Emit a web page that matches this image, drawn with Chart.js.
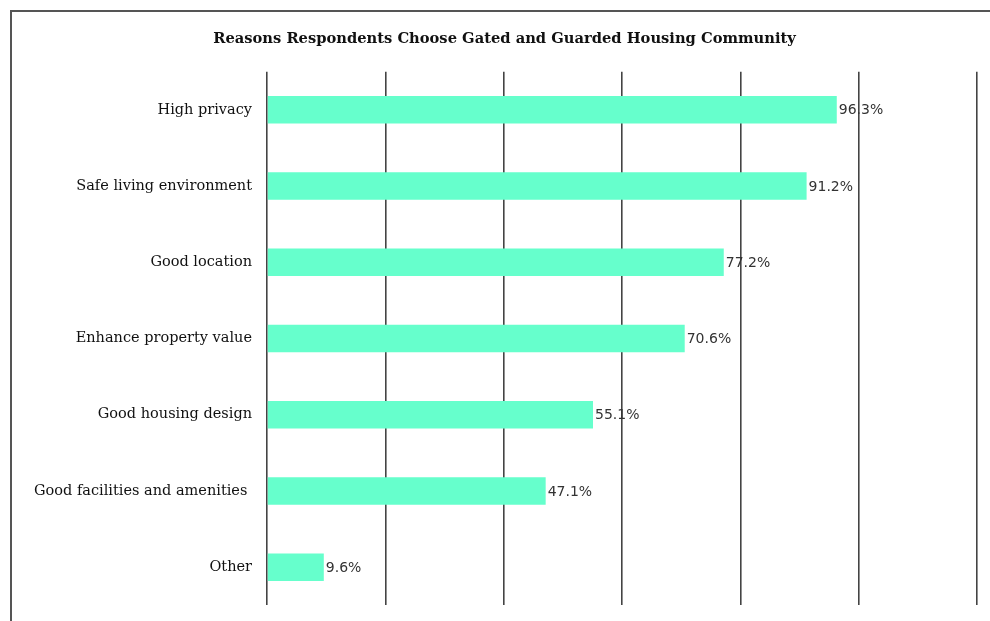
<!DOCTYPE html>
<html lang="en">
<head>
    <meta charset="UTF-8">
    <script src="https://cdn.jsdelivr.net/npm/chart.js"></script>
    <title>Reasons Respondents Choose Gated and Guarded Housing Community</title>
    <style>
        body { margin: 0; background: #fff; }
        #wrap { position: relative; width: 990px; height: 621px; }
        #frame { position: absolute; left: 10px; top: 10px; right: 0; bottom: 0;
                 border-left: 2px solid #555; border-top: 2px solid #555; }
        canvas { position: absolute; left: 0; top: 0; }
    </style>
</head>
<body>
<div id="wrap">
    <div id="frame"></div>
    <canvas id="reasons" width="990" height="621"></canvas>
</div>
<script>
    // chart data
    var reasons = ['High privacy', 'Safe living environment', 'Good location', 'Enhance property value',
        'Good housing design', 'Good facilities and amenities ', 'Other'];
    var percents = [96.3, 91.2, 77.2, 70.6, 55.1, 47.1, 9.6];
    var axisTicks = [0, 20, 40, 60, 80, 100, 120];

    // write the value after each bar
    var valueLabels = {
        id: 'valueLabels',
        afterDatasetsDraw: function (chart) {
            var ctx = chart.ctx;
            var meta = chart.getDatasetMeta(0);
            ctx.save();
            ctx.font = '14px "DejaVu Sans"';
            ctx.fillStyle = '#333';
            ctx.textBaseline = 'middle';
            meta.data.forEach(function (bar, i) {
                ctx.fillText(percents[i].toFixed(1) + '%', bar.x + 2, bar.y + 1);
            });
            ctx.restore();
        }
    };

    var context = document.getElementById('reasons').getContext('2d');
    var reasonsChart = new Chart(context, {
        type: 'bar',
        data: {
            labels: reasons,
            datasets: [{
                data: percents,
                backgroundColor: '#66ffcc',
                borderWidth: 0,
                barPercentage: 0.36,
                categoryPercentage: 1
            }]
        },
        options: {
            indexAxis: 'y',
            responsive: false,
            animation: false,
            layout: { padding: { left: 32, right: 13, top: 0, bottom: 9 } },
            plugins: {
                legend: { display: false },
                tooltip: { enabled: false },
                title: {
                    display: true,
                    text: 'Reasons Respondents Choose Gated and Guarded Housing Community',
                    color: '#111',
                    font: { family: '"DejaVu Serif"', size: 14.7, weight: 'bold' },
                    padding: { top: 30, bottom: 24 }
                }
            },
            scales: {
                x: {
                    min: axisTicks[0],
                    max: axisTicks[axisTicks.length - 1],
                    ticks: { stepSize: 20, display: false },
                    grid: { color: '#444', lineWidth: 1.6, drawTicks: false },
                    border: { display: false }
                },
                y: {
                    grid: { display: false },
                    border: { display: false },
                    ticks: {
                        color: '#111',
                        padding: 7,
                        font: { family: '"DejaVu Serif"', size: 14.5 }
                    },
                    afterFit: function (scale) { scale.width = 235; }
                }
            }
        },
        plugins: [valueLabels]
    });
</script>
</body>
</html>
